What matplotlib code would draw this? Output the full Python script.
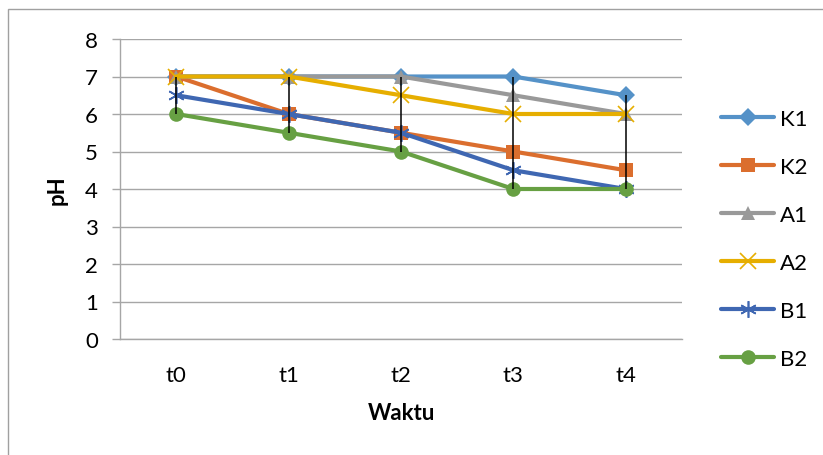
import matplotlib
matplotlib.use("Agg")
import matplotlib.pyplot as plt
from matplotlib.patches import Rectangle
import numpy as np

# data
waktu = ["t0", "t1", "t2", "t3", "t4"]
k1 = [7, 7, 7, 7, 6.5]
k2 = [7, 6, 5.5, 5, 4.5]
a1 = [7, 7, 7, 6.5, 6]
a2 = [7, 7, 6.5, 6, 6]
b1 = [6.5, 6, 5.5, 4.5, 4]
b2 = [6, 5.5, 5, 4, 4]

series = [
    ("K1", k1, "#5592C8", "D", 9.5),
    ("K2", k2, "#DB6E2E", "s", 10),
    ("A1", a1, "#999999", "^", 10),
    ("A2", a2, "#E6AE00", "x", 11),
    ("B1", b1, "#3F67B2", (6, 2, 0), 12),
    ("B2", b2, "#67A043", "o", 10.5),
]

plt.rcParams.update({"font.family": ["Lato", "DejaVu Sans"], "font.size": 16})

fig = plt.figure(figsize=(8.23, 4.56), dpi=100)
ax = fig.add_axes([120 / 823, 116 / 456, 562 / 823, 300 / 456])

x = np.arange(len(waktu))
for nama, nilai, warna, mk, ms in series:
    thin = mk == "x" or isinstance(mk, tuple)
    ax.plot(
        x,
        nilai,
        color=warna,
        linewidth=3,
        marker=mk,
        markersize=ms,
        markeredgewidth=1.2 if thin else 0,
        markerfacecolor=warna,
        markeredgecolor=warna,
        label=nama,
        zorder=3,
        solid_capstyle="round",
    )

# high-low lines
semua = np.array([k1, k2, a1, a2, b1, b2])
ax.vlines(x, semua.min(axis=0), semua.max(axis=0), color="black", linewidth=1.1, zorder=5)

ax.set_xlim(-0.5, len(waktu) - 0.5)
ax.set_ylim(0, 8)
ax.set_yticks(range(0, 9))
ax.set_xticks(x)
ax.set_xticklabels(waktu)
ax.grid(axis="y", color="#A6A6A6", linewidth=1.0, zorder=0)
ax.set_axisbelow(True)
for s in ["top", "right"]:
    ax.spines[s].set_visible(False)
for s in ["left", "bottom"]:
    ax.spines[s].set_color("#A6A6A6")
    ax.spines[s].set_linewidth(1.0)
ax.tick_params(axis="y", length=6, width=1.0, color="#A6A6A6", pad=10)
ax.tick_params(axis="x", length=0, pad=19)
ax.set_xlabel("Waktu", fontweight="bold", labelpad=12)
ax.set_ylabel("pH", fontweight="bold", labelpad=12)

fig.legend(
    loc="upper left",
    bbox_to_anchor=(721 / 823, 1 - 110 / 456),
    frameon=False,
    labelspacing=1.26,
    handlelength=2.4,
    handletextpad=0.25,
    borderaxespad=0,
    borderpad=0,
)

fig.add_artist(
    Rectangle(
        (8 / 823, -0.1),
        1.0,
        1.1 - 10 / 456,
        transform=fig.transFigure,
        fill=False,
        edgecolor="#A0A0A0",
        linewidth=1.0,
    )
)

fig.savefig("out.png", dpi=100, facecolor="white")
